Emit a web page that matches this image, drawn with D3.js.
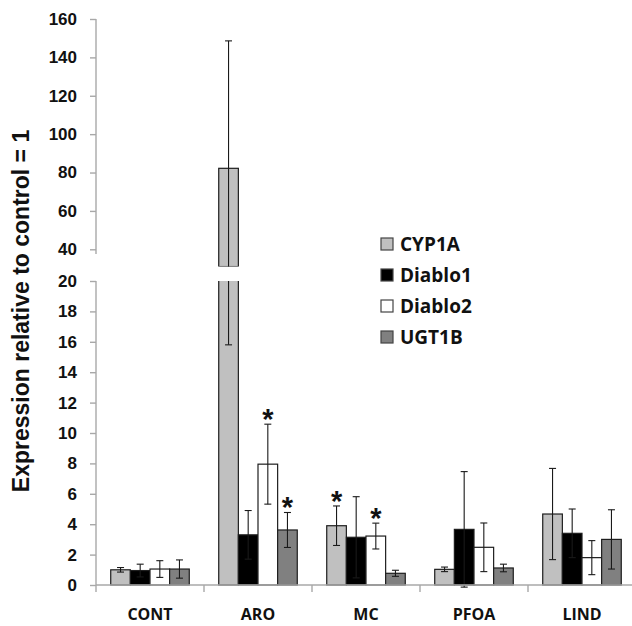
<!DOCTYPE html>
<html>
<head>
<meta charset="utf-8">
<script src="https://cdn.jsdelivr.net/npm/d3@7"></script>
<style>
  body { margin: 0; background: #fff; }
  svg text { fill: #111; }
</style>
</head>
<body>
<div id="chart"></div>
<script>
// data
var categories = ["CONT", "ARO", "MC", "PFOA", "LIND"];
var series = ["CYP1A", "Diablo1", "Diablo2", "UGT1B"];
var colors = ["#c0c0c0", "#000000", "#ffffff", "#808080"];
var cyp1a   = [1.0, 82.2, 3.9, 1.03, 4.67];
var cyp1aErr = [0.15, 66.4, 1.3, 0.15, 3.0];
var diablo1 = [0.95, 3.3, 3.14, 3.66, 3.4];
var diablo1Err = [0.42, 1.6, 2.67, 3.8, 1.6];
var diablo2 = [1.05, 7.95, 3.22, 2.48, 1.8];
var diablo2Err = [0.55, 2.63, 0.85, 1.6, 1.12];
var ugt1b   = [1.05, 3.62, 0.77, 1.12, 3.0];
var ugt1bErr = [0.6, 1.15, 0.2, 0.25, 1.95];
// significance stars: [category, series]
var stars = [["ARO", "Diablo2"], ["ARO", "UGT1B"], ["MC", "CYP1A"], ["MC", "Diablo2"]];
var lowTicks = [0, 2, 4, 6, 8, 10, 12, 14, 16, 18, 20];
var highTicks = [40, 60, 80, 100, 120, 140, 160];
var breakValue = 31; // where the upper segment is cut

var values = [cyp1a, diablo1, diablo2, ugt1b];
var errors = [cyp1aErr, diablo1Err, diablo2Err, ugt1bErr];

var width = 632, height = 626;
var axisColor = "#a8a8a8";

var svg = d3.select("#chart").append("svg")
  .attr("width", width)
  .attr("height", height)
  .style("font-family", "'Open Sans', Lato, sans-serif");

var x0 = d3.scaleBand().domain(categories).range([96, 636]);
var x1 = d3.scaleBand().domain(series).range([0, x0.bandwidth()])
  .paddingInner(0).paddingOuter(0.75);

var yLow = d3.scaleLinear().domain([0, 20]).range([585, 281]);
var yHigh = d3.scaleLinear().domain([40, 160]).range([249.3, 19]);

// clip regions for the two panels of the broken axis
var defs = svg.append("defs");
defs.append("clipPath").attr("id", "clipHigh")
  .append("rect").attr("x", 0).attr("y", 0).attr("width", width).attr("height", yHigh(breakValue));
defs.append("clipPath").attr("id", "clipLow")
  .append("rect").attr("x", 0).attr("y", yLow(20)).attr("width", width).attr("height", height - yLow(20));

var rows = [];
categories.forEach(function(c, i){
  series.forEach(function(s, j){
    rows.push({cat: c, ser: s, color: colors[j], v: values[j][i], e: errors[j][i]});
  });
});

function drawPanel(g, y, base, keep) {
  var data = rows.filter(keep);
  g.selectAll("rect.bar").data(data).enter().append("rect")
    .attr("class", "bar")
    .attr("x", function(d){ return x0(d.cat) + x1(d.ser); })
    .attr("y", function(d){ return y(d.v); })
    .attr("width", x1.bandwidth())
    .attr("height", function(d){ return y(base) - y(d.v); })
    .attr("fill", function(d){ return d.color; })
    .attr("stroke", "#1e1e1e")
    .attr("stroke-width", 1.2);

  var cap = 3.5;
  var eb = g.selectAll("g.err").data(data).enter().append("g")
    .attr("class", "err")
    .attr("stroke", "#1a1a1a")
    .attr("stroke-width", 1.1);
  eb.append("line")
    .attr("x1", function(d){ return x0(d.cat) + x1(d.ser) + x1.bandwidth()/2; })
    .attr("x2", function(d){ return x0(d.cat) + x1(d.ser) + x1.bandwidth()/2; })
    .attr("y1", function(d){ return y(d.v - d.e); })
    .attr("y2", function(d){ return y(d.v + d.e); });
  [-1, 1].forEach(function(sgn){
    eb.append("line")
      .attr("x1", function(d){ return x0(d.cat) + x1(d.ser) + x1.bandwidth()/2 - cap; })
      .attr("x2", function(d){ return x0(d.cat) + x1(d.ser) + x1.bandwidth()/2 + cap; })
      .attr("y1", function(d){ return y(d.v + sgn*d.e); })
      .attr("y2", function(d){ return y(d.v + sgn*d.e); });
  });
}

var high = svg.append("g").attr("clip-path", "url(#clipHigh)");
drawPanel(high, yHigh, breakValue, function(d){ return d.v > breakValue; });
var low = svg.append("g").attr("clip-path", "url(#clipLow)");
drawPanel(low, yLow, 0, function(d){ return true; });

// stars
svg.selectAll("text.star").data(stars).enter().append("text")
  .attr("class", "star")
  .attr("x", function(d){ return x0(d[0]) + x1(d[1]) + x1.bandwidth()/2; })
  .attr("y", function(d){
    var i = categories.indexOf(d[0]), j = series.indexOf(d[1]);
    return yLow(values[j][i] + errors[j][i]) + 5;
  })
  .attr("text-anchor", "middle")
  .style("font-family", "'Liberation Sans', Arial, sans-serif")
  .style("font-weight", "bold")
  .style("font-size", "29px")
  .text("*");

// y axes
function styleAxis(g) {
  g.select(".domain").remove();
  g.selectAll(".tick line").attr("stroke", axisColor).attr("stroke-width", 1.4);
  g.selectAll(".tick text")
    .attr("x", -19)
    .style("font-size", "17px")
    .style("font-weight", "bold")
    .attr("fill", "#111");
}
svg.append("g").attr("transform", "translate(96,0)")
  .call(d3.axisLeft(yHigh).tickValues(highTicks).tickSize(6).tickPadding(0))
  .call(styleAxis);
svg.append("g").attr("transform", "translate(96,0)")
  .call(d3.axisLeft(yLow).tickValues(lowTicks).tickSize(6).tickPadding(0))
  .call(styleAxis);

svg.append("line")
  .attr("x1", 96).attr("x2", 96)
  .attr("y1", yHigh(160)).attr("y2", yHigh(37.5))
  .attr("stroke", axisColor).attr("stroke-width", 1.4);
svg.append("line")
  .attr("x1", 96).attr("x2", 96)
  .attr("y1", yLow(20)).attr("y2", yLow(0))
  .attr("stroke", axisColor).attr("stroke-width", 1.4);

// x axis
svg.append("line")
  .attr("x1", 96).attr("x2", width)
  .attr("y1", yLow(0)).attr("y2", yLow(0))
  .attr("stroke", axisColor).attr("stroke-width", 1.4);
svg.selectAll("line.xtick").data(categories).enter().append("line")
  .attr("class", "xtick")
  .attr("x1", function(d){ return x0(d); })
  .attr("x2", function(d){ return x0(d); })
  .attr("y1", yLow(0)).attr("y2", yLow(0) + 7)
  .attr("stroke", axisColor).attr("stroke-width", 1.4);
svg.selectAll("text.cat").data(categories).enter().append("text")
  .attr("class", "cat")
  .attr("x", function(d){ return x0(d) + x0.bandwidth()/2; })
  .attr("y", 620)
  .attr("text-anchor", "middle")
  .style("font-size", "16px")
  .style("font-weight", "bold")
  .text(function(d){ return d; });

// y title
svg.append("text")
  .attr("transform", "translate(29,311) rotate(-90)")
  .attr("text-anchor", "middle")
  .style("font-family", "'Liberation Sans', Arial, sans-serif")
  .style("font-size", "23px")
  .style("font-weight", "bold")
  .text("Expression relative to control = 1");

// legend
var legend = svg.append("g").attr("transform", "translate(381,238)");
var item = legend.selectAll("g").data(series).enter().append("g")
  .attr("transform", function(d, i){ return "translate(0," + (i * 31) + ")"; });
item.append("rect")
  .attr("width", 12).attr("height", 12)
  .attr("fill", function(d, i){ return colors[i]; })
  .attr("stroke", "#444").attr("stroke-width", 1.2);
item.append("text")
  .attr("x", 19).attr("y", 13)
  .style("font-size", "19px")
  .style("font-weight", "bold")
  .text(function(d){ return d; });
</script>
</body>
</html>
